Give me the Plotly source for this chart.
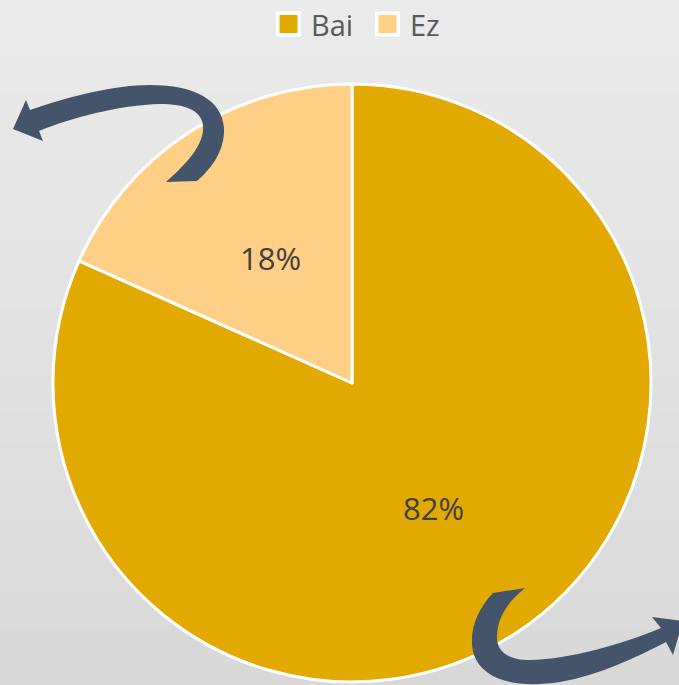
import math
import plotly.graph_objects as go

categories = ["Bai", "Ez"]
values = [81.7, 18.3]
colors = ["#E2AA00", "#FFCF86"]

W, H = 679, 685

def P(x, y):
    return f"{x / W:.5f},{1 - y / H:.5f}"

def path(cmds):
    out = []
    for c in cmds:
        op = c[0]
        pts = c[1:]
        out.append(op + " " + " ".join(P(*p) for p in pts))
    return " ".join(out) + " Z"

arrow1 = path([
    ("M", (166, 182)),
    ("C", (185, 165), (205, 145), (203, 125)),
    ("C", (201, 110), (185, 104), (160, 104)),
    ("C", (120, 105), (70, 118), (39, 131)),
    ("L", (43, 141)),
    ("L", (13, 129)),
    ("L", (26, 100)),
    ("L", (30, 110)),
    ("C", (70, 96), (115, 85), (150, 85)),
    ("C", (195, 85), (222, 100), (224, 128)),
    ("C", (225, 150), (212, 168), (197, 181)),
])

arrow2 = path([
    ("M", (493, 593)),
    ("C", (475, 612), (468, 635), (474, 655)),
    ("C", (484, 682), (520, 688), (560, 682)),
    ("C", (600, 675), (635, 658), (666, 642)),
    ("L", (673, 655)),
    ("L", (683, 621)),
    ("L", (652, 617)),
    ("L", (661, 628)),
    ("C", (620, 645), (570, 659), (530, 660)),
    ("C", (506, 660), (496, 650), (497, 635)),
    ("C", (498, 615), (510, 600), (525, 588)),
])

shapes = []
# vertical gradient background
n = 60
top = (235, 235, 235)
bot = (216, 216, 216)
for i in range(n):
    t = i / (n - 1)
    c = tuple(round(top[k] + (bot[k] - top[k]) * t) for k in range(3))
    shapes.append(dict(type="rect", xref="paper", yref="paper",
                       x0=0, x1=1, y0=1 - (i + 1) / n - 0.002, y1=1 - i / n,
                       fillcolor=f"rgb{c}", line=dict(width=0), layer="below"))
for p in (arrow1, arrow2):
    shapes.append(dict(type="path", xref="paper", yref="paper", path=p,
                       fillcolor="#44546A", line=dict(width=0), layer="above"))

annotations = []
# custom legend (white-bordered swatches)
leg_x = [276, 375]
leg_yc = 24
for i, (cat, col) in enumerate(zip(categories, colors)):
    x0 = leg_x[i]
    shapes.append(dict(type="rect", xref="paper", yref="paper",
                       x0=x0 / W, x1=(x0 + 25) / W,
                       y0=1 - (leg_yc + 12.5) / H, y1=1 - (leg_yc - 12.5) / H,
                       fillcolor="white", line=dict(width=0)))
    shapes.append(dict(type="rect", xref="paper", yref="paper",
                       x0=(x0 + 3.5) / W, x1=(x0 + 21.5) / W,
                       y0=1 - (leg_yc + 9) / H, y1=1 - (leg_yc - 9) / H,
                       fillcolor=col, line=dict(width=0)))
    annotations.append(dict(xref="paper", yref="paper", x=(x0 + 33) / W,
                            y=1 - leg_yc / H, xanchor="left", yanchor="middle",
                            text=cat, showarrow=False,
                            font=dict(family="Open Sans", size=29, color="#595959")))

cx, cy, r = 352, 383, 299
total = sum(values)
cum = 0
for v in values:
    theta = 2 * math.pi * (cum + v / 2) / total
    cum += v
    lx = cx + 0.5 * r * math.sin(theta)
    ly = cy - 0.5 * r * math.cos(theta)
    annotations.append(dict(xref="paper", yref="paper", x=lx / W, y=1 - ly / H,
                            xanchor="center", yanchor="middle",
                            text=f"{round(100 * v / total)}%", showarrow=False,
                            font=dict(family="Open Sans", size=31, color="#404040")))

fig = go.Figure(go.Pie(
    labels=categories, values=values, sort=False, direction="clockwise",
    rotation=0,
    marker=dict(colors=colors, line=dict(color="white", width=3)),
    textinfo="none",
    domain=dict(x=[(cx - r) / W, (cx + r) / W], y=[1 - (cy + r) / H, 1 - (cy - r) / H]),
    hoverinfo="skip",
    showlegend=False,
))

fig.update_layout(
    width=W, height=H,
    margin=dict(l=0, r=0, t=0, b=0),
    paper_bgcolor="#E6E6E6",
    shapes=shapes,
    annotations=annotations,
    showlegend=False,
)

fig.write_html("out.html", config={"displayModeBar": False},
               post_script="document.body.style.margin='0';document.body.style.overflow='hidden';")
